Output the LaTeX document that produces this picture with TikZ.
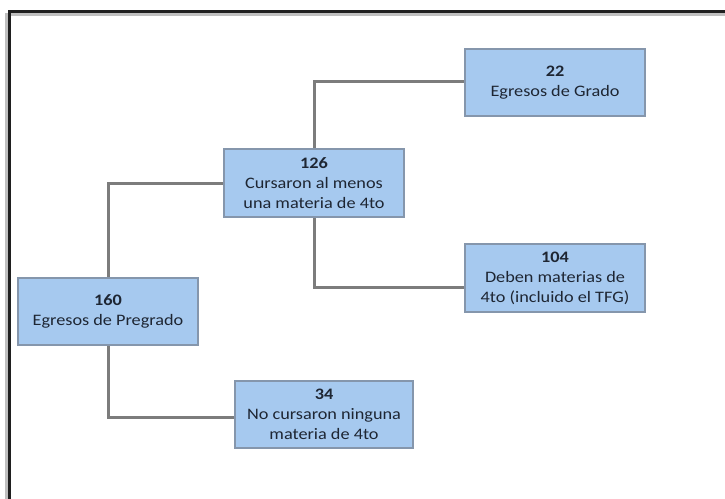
\documentclass[tikz,border=0pt]{standalone}
\usepackage{fontspec}
\setmainfont{Carlito}
\newfontfamily\boxfont[FakeStretch=1.14]{Carlito}
\begin{document}
\begin{tikzpicture}[x=1pt,y=-1pt,
  box/.style={draw=boxedge, line width=2pt, fill=boxfill, minimum width=180pt, minimum height=67pt,
    align=center, text=txt, font=\boxfont\fontsize{16}{20}\selectfont, inner sep=2pt},
  link/.style={draw=linkc, line width=3pt}]
\definecolor{boxfill}{HTML}{A6C9EF}
\definecolor{boxedge}{HTML}{8596AC}
\definecolor{txt}{HTML}{1E2633}
\definecolor{linkc}{HTML}{7C7C7C}
\useasboundingbox (0,0) rectangle (725,498);
\fill[white] (0,0) rectangle (725,498);
% frame
\draw[line width=3pt, black!25] (6.5,500) -- (6.5,14.5) -- (730,14.5);
\draw[line width=3pt, black!88] (9.5,500) -- (9.5,11.5) -- (730,11.5);
% nodes
\node[box] (g22) at (555,82.5) {\textbf{22}\\Egresos de Grado};
\node[box, minimum height=68pt] (c126) at (314,183) {\textbf{126}\\Cursaron al menos\\una materia de 4to};
\node[box, minimum height=68pt] (d104) at (555,278) {\textbf{104}\\Deben materias de\\4to (incluido el TFG)};
\node[box] (p160) at (108,311.5) {\textbf{160}\\Egresos de Pregrado};
\node[box, minimum width=178pt] (n34) at (324,414.5) {\textbf{34}\\No cursaron ninguna\\materia de 4to};
% connectors
\draw[link] (c126.west) -| (p160.north);
\draw[link] (p160.south) |- ([yshift=-3pt]n34.west);
\draw[link] (c126.north) |- ([yshift=1pt]g22.west);
\draw[link] (c126.south) |- ([yshift=-9pt]d104.west);
\end{tikzpicture}
\end{document}
